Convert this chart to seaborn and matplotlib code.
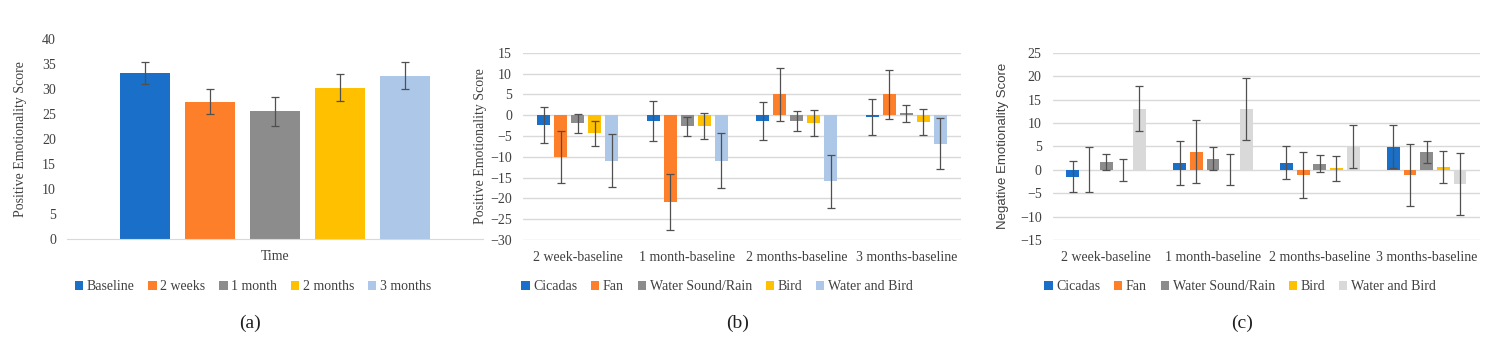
import numpy as np
import pandas as pd
import matplotlib
matplotlib.use('Agg')
import matplotlib.pyplot as plt
import seaborn as sns

# panel (a): positive emotionality over time
time_labels = ['Baseline', '2 weeks', '1 month', '2 months', '3 months']
time_mean = [33.3, 27.5, 25.6, 30.3, 32.7]
time_err = [2.2, 2.45, 2.9, 2.65, 2.7]
time_colors = ['#1a70c8', '#fe7f2a', '#8c8c8c', '#ffc000', '#adc7e8']

# panels (b) and (c): change from baseline per sound
periods = ['2 week-baseline', '1 month-baseline', '2 months-baseline', '3 months-baseline']
sounds = ['Cicadas', 'Fan', 'Water Sound/Rain', 'Bird', 'Water and Bird']

pos_cicadas = [-2.4, -1.4, -1.4, -0.4]
pos_fan = [-10.0, -20.8, 5.0, 5.0]
pos_water = [-2.0, -2.7, -1.4, 0.4]
pos_bird = [-4.4, -2.6, -1.9, -1.6]
pos_wb = [-10.9, -10.9, -15.9, -6.9]
pos_cicadas_err = [4.4, 4.8, 4.5, 4.3]
pos_fan_err = [6.2, 6.7, 6.4, 5.9]
pos_water_err = [2.3, 2.3, 2.3, 2.1]
pos_bird_err = [3.0, 3.2, 3.1, 3.1]
pos_wb_err = [6.4, 6.6, 6.4, 6.1]

neg_cicadas = [-1.5, 1.4, 1.5, 4.9]
neg_fan = [0.0, 3.9, -1.1, -1.1]
neg_water = [1.6, 2.4, 1.3, 3.8]
neg_bird = [-0.1, 0.0, 0.3, 0.6]
neg_wb = [13.0, 13.0, 5.0, -3.1]
neg_cicadas_err = [3.35, 4.65, 3.5, 4.6]
neg_fan_err = [4.8, 6.7, 4.9, 6.65]
neg_water_err = [1.75, 2.4, 1.8, 2.25]
neg_bird_err = [2.4, 3.3, 2.6, 3.4]
neg_wb_err = [4.8, 6.65, 4.6, 6.65]

pos_colors = ['#1a70c8', '#fe7f2a', '#8c8c8c', '#ffc000', '#adc7e8']
neg_colors = ['#1a70c8', '#fe7f2a', '#8c8c8c', '#ffc000', '#d9d9d9']

sns.set_style('white')
plt.rcParams['font.family'] = ['Liberation Serif', 'DejaVu Serif']
plt.rcParams['font.size'] = 10

txt = '#404040'
grid_c = '#d9d9d9'
err_c = '#505050'

fig = plt.figure(figsize=(15, 3.43), dpi=100)
H = 343.0
W = 1500.0


def make_ax(left, right, top, bottom):
    return fig.add_axes([left / W, 1 - bottom / H, (right - left) / W, (bottom - top) / H])


def style(ax):
    for s in ax.spines.values():
        s.set_visible(False)
    ax.tick_params(length=0, colors=txt, labelsize=10)
    ax.tick_params(axis='y', pad=8)
    ax.tick_params(axis='x', pad=8)
    ax.set_xlabel('')


def add_errs(ax, vals, errs):
    for cont, v, e in zip(ax.containers, vals, errs):
        xs = [b.get_x() + b.get_width() / 2 for b in cont]
        ax.errorbar(xs, v, yerr=e, fmt='none', ecolor=err_c, elinewidth=0.9,
                    capsize=3.2, capthick=0.9, zorder=5)


def add_legend(ax, xc):
    h, l = ax.get_legend_handles_labels()
    ax.legend(h, l, loc='center', bbox_to_anchor=(xc / W, 1 - 287 / H),
              bbox_transform=fig.transFigure, ncol=5, frameon=False,
              handlelength=0.6, handleheight=0.6, handletextpad=0.25,
              columnspacing=1.0, fontsize=10, labelcolor=txt)


# (a)
ax1 = make_ax(67, 483, 39.3, 239)
df_a = pd.DataFrame({'x': ['Time'] * len(time_labels), 'time': time_labels, 'score': time_mean})
sns.barplot(data=df_a, x='x', y='score', hue='time', palette=time_colors, saturation=1,
            width=0.78, gap=0.23, errorbar=None, linewidth=0, ax=ax1)
add_errs(ax1, [[m] for m in time_mean], [[e] for e in time_err])
style(ax1)
ax1.spines['bottom'].set_visible(True)
ax1.spines['bottom'].set_color(grid_c)
ax1.set_xlim(-0.5, 0.5)
ax1.set_ylim(0, 40)
ax1.set_yticks(range(0, 41, 5))
ax1.set_ylabel('Positive Emotionality Score', color=txt, fontsize=10)
ax1.yaxis.set_label_coords(-0.096, 0.5)
add_legend(ax1, 253)


def diff_panel(ax, series, errs, colors, ylim, step, ylabel, lab_x, lab_font):
    rows = []
    for s, vals in zip(sounds, series):
        for p, v in zip(periods, vals):
            rows.append({'period': p, 'sound': s, 'value': v})
    df = pd.DataFrame(rows)
    sns.barplot(data=df, x='period', y='value', hue='sound', palette=colors, saturation=1,
                width=0.78, gap=0.23, errorbar=None, linewidth=0, ax=ax)
    ax.set_axisbelow(True)
    ax.yaxis.grid(True, color=grid_c, lw=1)
    add_errs(ax, series, errs)
    style(ax)
    ax.set_xlim(-0.5, len(periods) - 0.5)
    ax.set_ylim(*ylim)
    ax.set_yticks(np.arange(ylim[0], ylim[1] + 0.1, step))
    ax.set_ylabel(ylabel, color=txt, fontsize=10 if lab_font is None else 9.5,
                  family=lab_font if lab_font else None)
    ax.yaxis.set_label_coords(lab_x, 0.5)


# (b)
ax2 = make_ax(523, 961, 52.7, 240)
diff_panel(ax2, [pos_cicadas, pos_fan, pos_water, pos_bird, pos_wb],
           [pos_cicadas_err, pos_fan_err, pos_water_err, pos_bird_err, pos_wb_err],
           pos_colors, (-30, 15), 5, 'Positive Emotionality Score', -0.082, None)
add_legend(ax2, 717)

# (c)
ax3 = make_ax(1052.7, 1480, 52.7, 240)
diff_panel(ax3, [neg_cicadas, neg_fan, neg_water, neg_bird, neg_wb],
           [neg_cicadas_err, neg_fan_err, neg_water_err, neg_bird_err, neg_wb_err],
           neg_colors, (-15, 25), 5, 'Negative Emotionality Score', -0.102,
           ['Liberation Sans', 'DejaVu Sans'])
add_legend(ax3, 1240)

for lab, xc in [('(a)', 250), ('(b)', 738), ('(c)', 1242)]:
    fig.text(xc / W, 1 - 323 / H, lab, ha='center', va='center', fontsize=14, color='#202020')

fig.savefig('out.png', dpi=100)
